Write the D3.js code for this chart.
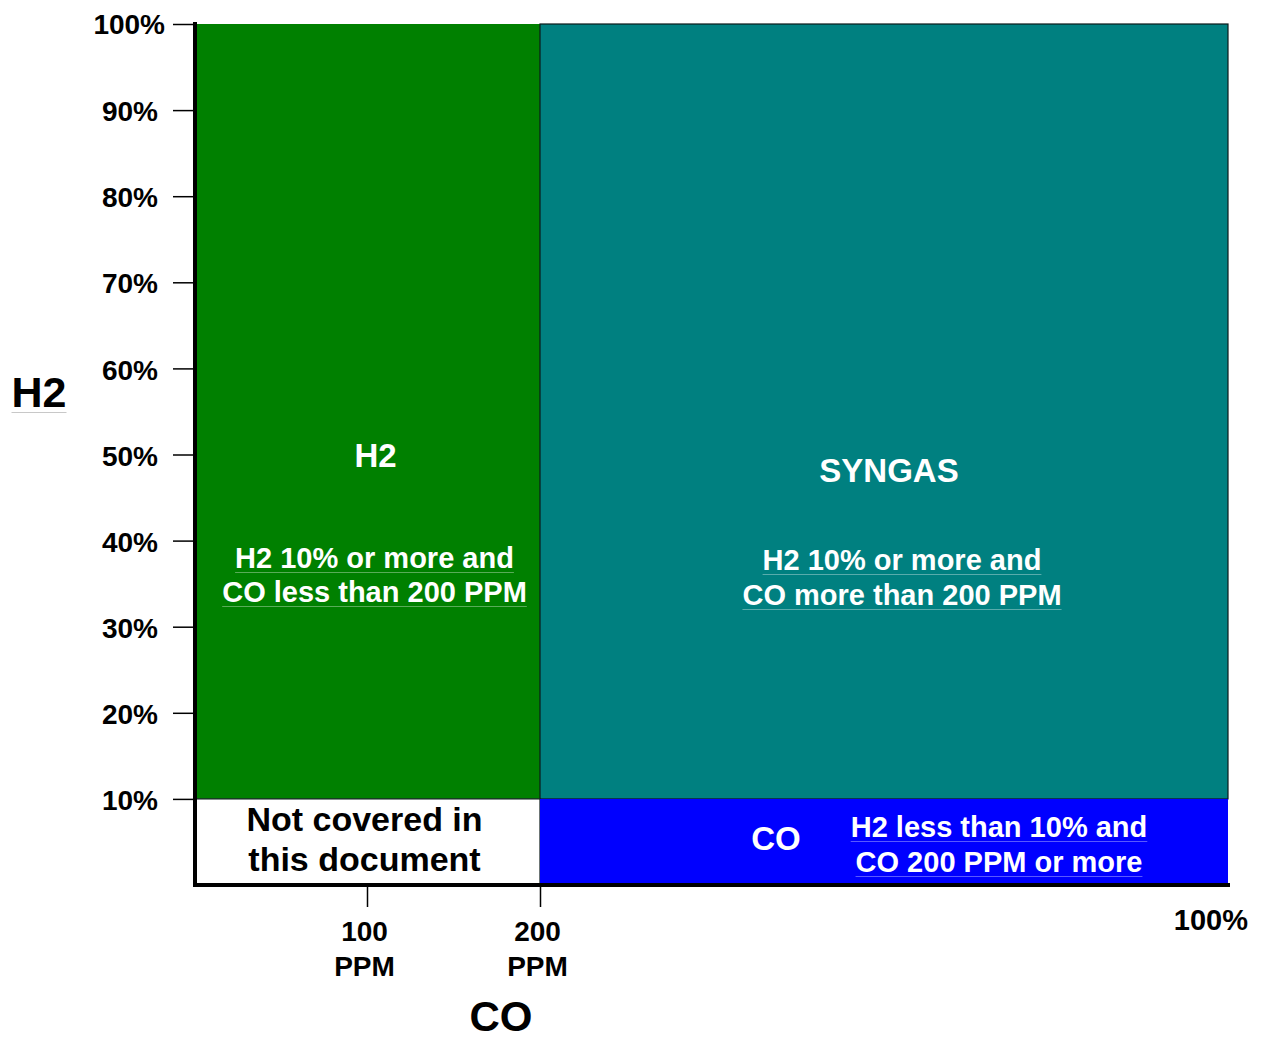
<!DOCTYPE html>
<html>
<head>
<meta charset="utf-8">
<script src="https://cdn.jsdelivr.net/npm/d3@7"></script>
<style>
  body { margin: 0; background: #fff; }
  svg { font-family: "Liberation Sans", Arial, sans-serif; font-weight: bold; }
  .axis text { font-size: 28px; font-weight: bold; fill: #000; }
  .axis line { stroke: #000; stroke-width: 1.5; }
  .axis path { stroke: #000; stroke-width: 4; }
</style>
</head>
<body>
<svg width="1262" height="1041"></svg>
<script>
// H2 (%) on the vertical axis, CO (ppm) on the horizontal axis; 100% CO = 1,000,000 ppm
var h2Ticks = [10, 20, 30, 40, 50, 60, 70, 80, 90, 100];
var coTicks = [100, 200];
var coBreaks = [0, 100, 200, 1000000];

var regionNames = ["H2", "SYNGAS", "NOT_COVERED", "CO"];
var regionCo = [[0, 200], [200, 1000000], [0, 200], [200, 1000000]];
var regionH2 = [[10, 100], [10, 100], [0, 10], [0, 10]];
var regionColor = {H2: "#008000", SYNGAS: "#008080", NOT_COVERED: "#ffffff", CO: "#0000ff"};

var titleH2 = "H2";
var descH2 = ["H2 10% or more and", "CO less than 200 PPM"];
var titleSyngas = "SYNGAS";
var descSyngas = ["H2 10% or more and", "CO more than 200 PPM"];
var notCovered = ["Not covered in", "this document"];
var titleCo = "CO";
var descCo = ["H2 less than 10% and", "CO 200 PPM or more"];

(function() {
  var svg = d3.select("svg");

  var x = d3.scaleLinear().domain(coBreaks).range([195, 367, 540, 1228]),
      y = d3.scaleLinear().domain([0, 100]).range([885, 24]);

  var regions = regionNames.map(function(n, i) {
    return {name: n, co: regionCo[i], h2: regionH2[i]};
  });

  svg.selectAll(".region").data(regions)
    .enter().append("rect")
    .attr("class", "region")
    .attr("x", function(d) { return x(d.co[0]); })
    .attr("y", function(d) { return y(d.h2[1]); })
    .attr("width", function(d) { return x(d.co[1]) - x(d.co[0]); })
    .attr("height", function(d) { return y(d.h2[0]) - y(d.h2[1]); })
    .attr("fill", function(d) { return regionColor[d.name]; })
    .attr("stroke", function(d) { return d.name == "H2" || d.name == "CO" ? "none" : "#0b1a1a"; })
    .attr("stroke-width", 1.2);

  // y axis
  var gy = svg.append("g")
    .attr("class", "axis")
    .attr("transform", "translate(195,0)")
    .call(d3.axisLeft(y).tickValues(h2Ticks).tickSize(22).tickSizeOuter(0).tickPadding(15)
      .tickFormat(function(d) { return d + "%"; }));
  gy.select(".domain").attr("d", "M0," + (y(0) + 2) + "V" + (y(100) - 2));
  gy.selectAll(".tick text").attr("dy", "0.38em");
  gy.selectAll(".tick").filter(function(d) { return d == 100; }).select("text").attr("dx", 7).attr("dy", "0.33em");

  // x axis
  var gx = svg.append("g")
    .attr("class", "axis")
    .attr("transform", "translate(0," + y(0) + ")")
    .call(d3.axisBottom(x).tickValues(coTicks).tickSize(22).tickSizeOuter(0));
  gx.select(".domain").attr("d", "M" + (x(0) - 2) + ",0H" + (x(1000000) + 2));
  gx.selectAll(".tick text").remove();
  gx.selectAll(".tick").each(function(d) {
    var t = d3.select(this).append("text").attr("text-anchor", "middle").attr("fill", "#000");
    t.append("tspan").attr("x", -3).attr("y", 56).text(d);
    t.append("tspan").attr("x", -3).attr("y", 91).text("PPM");
  });
  svg.append("text")
    .attr("x", x(1000000) + 20).attr("y", 930)
    .attr("text-anchor", "end").attr("font-size", 29)
    .text("100%");

  // axis titles
  var h2Label = svg.append("text")
    .attr("x", 39).attr("y", 407)
    .attr("text-anchor", "middle").attr("font-size", 43)
    .text("H2");
  var w = h2Label.node().getComputedTextLength();
  svg.append("line")
    .attr("x1", 39 - w / 2).attr("x2", 39 + w / 2)
    .attr("y1", 412.5).attr("y2", 412.5)
    .attr("stroke", "#c8c8c8").attr("stroke-width", 1);
  svg.append("text")
    .attr("x", 501).attr("y", 1031)
    .attr("text-anchor", "middle").attr("font-size", 42)
    .text("CO");

  function label(cx, base, txt, size, color, underline) {
    var t = svg.append("text")
      .attr("x", cx).attr("y", base)
      .attr("text-anchor", "middle").attr("font-size", size)
      .attr("fill", color)
      .text(txt);
    if (underline) {
      var len = t.node().getComputedTextLength();
      svg.append("line")
        .attr("x1", cx - len / 2).attr("x2", cx + len / 2)
        .attr("y1", base + 4.5).attr("y2", base + 4.5)
        .attr("stroke", "#fff").attr("stroke-opacity", 0.35).attr("stroke-width", 1);
    }
  }

  // region labels
  var gx0 = (x(0) + x(200)) / 2, sx0 = (x(200) + x(1000000)) / 2;
  label(gx0 + 8, y(50) + 12, titleH2, 33, "#fff", false);
  descH2.forEach(function(s, i) { label(gx0 + 7, 568 + i * 34, s, 29, "#fff", true); });

  label(sx0 + 5, 482, titleSyngas, 33, "#fff", false);
  descSyngas.forEach(function(s, i) { label(sx0 + 18, 570 + i * 35, s, 29, "#fff", true); });

  notCovered.forEach(function(s, i) { label(gx0 - 3, 831 + i * 40, s, 34, "#000", false); });

  label(776, 850, titleCo, 33, "#fff", false);
  descCo.forEach(function(s, i) { label(999, 837 + i * 35, s, 29, "#fff", true); });
})();
</script>
</body>
</html>
